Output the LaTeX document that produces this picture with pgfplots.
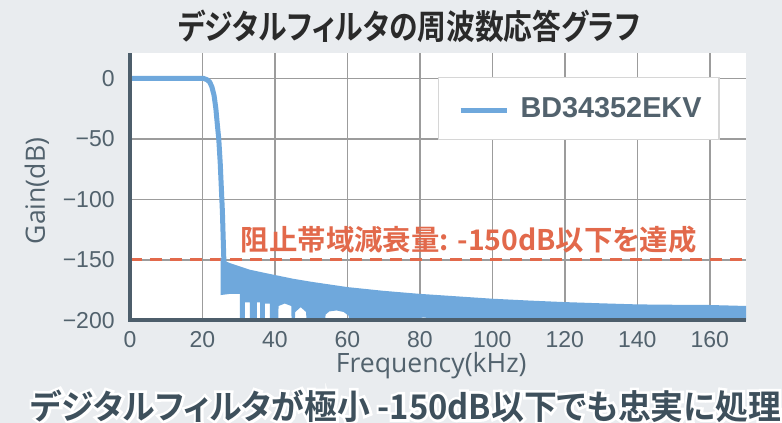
\documentclass[border=0pt]{standalone}
\usepackage{fontspec}
\usepackage{graphicx}
\usepackage{pgfplots}
\usetikzlibrary{calc}
\pgfplotsset{compat=1.18}
\setmainfont{Liberation Sans}
\newfontfamily\jpb[RawFeature=+palt]{Noto Sans CJK JP Bold}
\newfontfamily\jpbglow[RawFeature=+palt, FakeBold=16]{Noto Sans CJK JP Bold}
\newfontfamily\osans{Open Sans}
\definecolor{bgc}{HTML}{E9ECEF}
\definecolor{serblue}{HTML}{6FA8DC}
\definecolor{redd}{HTML}{E2694B}
\definecolor{slate}{HTML}{4D5E6B}
\definecolor{labc}{HTML}{52626D}
\definecolor{gridc}{HTML}{9C9C9C}
\definecolor{titc}{HTML}{2A2A2A}
\definecolor{botc}{HTML}{3E505C}
\definecolor{legb}{HTML}{D6D6D6}
\newcommand{\bottxt}{\scalebox{0.965}[1]{デジタルフィルタが極小 -150dB以下でも忠実に処理}}
\begin{document}
\begin{tikzpicture}
\useasboundingbox (0,0) rectangle (391pt,211.5pt);
\fill[bgc] (0,0) rectangle (391pt,211.5pt);
\node[text=titc, font=\jpb\fontsize{17}{18}\selectfont, inner sep=0pt] at (204.5pt,198.5pt) {\scalebox{0.846}[1]{デジタルフィルタの周波数応答グラフ}};
\begin{axis}[
 at={(65pt,51.25pt)}, anchor=south west,
 scale only axis, width=308pt, height=133.75pt,
 xmin=0, xmax=170, ymin=-200, ymax=21,
 clip=false,
 axis line style={draw=none},
 axis background/.style={fill=white},
 grid=major, major grid style={draw=gridc, line width=0.75pt},
 major tick length=0pt,
 xtick={0,20,...,160}, ytick={-200,-150,-100,-50,0},
 yticklabels={−200,−150,−100,−50,0},
 xticklabels={0,20,40,60,80,100,120,140,160},
 tick label style={font=\fontsize{11.5}{12}\selectfont, text=labc, inner sep=0pt},
 xticklabel style={anchor=base, yshift=-13.75pt},
 yticklabel style={anchor=east, xshift=-7.5pt},
 xlabel={Frequency(kHz)}, ylabel={Gain(dB)},
 label style={font=\osans\fontsize{13.3}{14}\selectfont, text=labc, inner sep=0pt},
 xlabel style={at={(axis description cs:0.489,0)}, anchor=base, yshift=-26.25pt},
 ylabel style={at={(axis description cs:-0.151,0.484)}, anchor=center},
 legend style={at={(axis description cs:0.5,0.91)}, anchor=north west,
   draw=legb, fill=white, line width=0.6pt, inner xsep=6.7pt, inner ysep=0pt,
   font=\bfseries\fontsize{14.4}{14}\selectfont, text=labc},
 legend image code/.code={\path[draw=none,fill=none] (-4.3pt,-15.5pt) rectangle (28pt,15.5pt); \draw[#1, line width=2.5pt] (0pt,-1pt) -- (23pt,-1pt);},
]
\addplot[forget plot, redd, line width=1.5pt, dash pattern=on 6pt off 4pt] coordinates {(0,-150) (170,-150)};
\addplot[forget plot, fill=serblue, draw=none] coordinates {
 (25.0,-148) (26,-150.5) (27.5,-152.5) (30,-155) (33,-158) (37.7,-161) (45,-165.5) (50,-168)
 (60,-172.4) (70,-175.5) (80,-178) (90,-180) (100,-182) (110,-183.5) (120,-184.8)
 (130,-185.8) (140,-186.7) (150,-187) (160,-187.2) (170,-188)
 (170,-200)
 (84.1,-200) (84,-198.5) (81,-197.5) (78.6,-198.5) (78.5,-200)
 (60.5,-200) (60.3,-196) (59,-193) (57,-191.7) (55,-192.5) (54,-195) (53.8,-200)
 (48.7,-200) (48.6,-193) (47.1,-189) (45.6,-193) (45.5,-200)
 (44.6,-200) (44.5,-188) (42.7,-186) (41,-188) (40.9,-200)
 (38.6,-200) (38.6,-186) (37.2,-186) (37.2,-200)
 (35.9,-200) (35.9,-185) (35.0,-185) (35.0,-200)
 (33.1,-200) (33.1,-185) (31.7,-185) (31.7,-200)
 (30.3,-200) (30.3,-178) (27.6,-178) (25.0,-179)
} -- cycle;
\addplot[serblue, line width=2.5pt, line join=round] coordinates {
 (0,0) (20.3,0) (21.2,-1) (22,-3) (22.6,-7) (23.2,-14) (23.7,-25) (24.1,-38)
 (24.5,-50) (24.9,-70) (25.2,-90) (25.5,-110) (25.7,-130) (25.9,-150) (26.0,-160)
};
\addlegendentry{BD34352EKV}
\node[anchor=west, text=redd, font=\jpb\fontsize{14.2}{15}\selectfont, inner sep=0pt] at (axis cs:30.5,-133.5) {阻止帯域減衰量: -150dB以下を達成};
\draw[slate, line width=2pt] (rel axis cs:0,1) -- (rel axis cs:0,0) -- (rel axis cs:1,0);
\end{axis}
\node[text=white, font=\jpbglow\fontsize{17}{18}\selectfont, inner sep=0pt] at (203pt,8.5pt) {\bottxt};
\node[text=botc, font=\jpb\fontsize{17}{18}\selectfont, inner sep=0pt] at (203pt,8.5pt) {\bottxt};
\end{tikzpicture}
\end{document}
